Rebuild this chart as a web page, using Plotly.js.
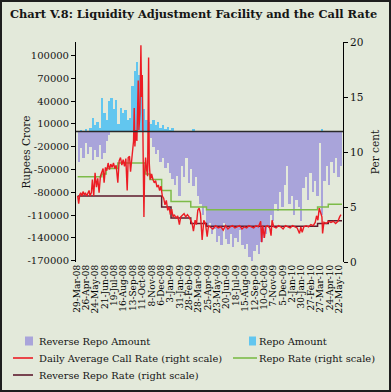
<!DOCTYPE html>
<html>
<head>
<meta charset="utf-8">
<script src="https://cdn.plot.ly/plotly-3.0.1.min.js"></script>
<style>
html,body{margin:0;padding:0;background:#fff;}
#wrap{position:relative;width:391px;height:392px;}
#chart{width:391px;height:392px;}
#frame{position:absolute;left:0;top:0;width:391px;height:392px;box-sizing:border-box;border:2px solid #1e1e1e;pointer-events:none;}
</style>
</head>
<body>
<div id="wrap"><div id="chart"></div><div id="frame"></div></div>
<script>
// ---- Weekly categories for LAF amounts ----
const weekDates = [
'2008-04-04','2008-04-11','2008-04-18','2008-04-25','2008-05-02','2008-05-09','2008-05-16','2008-05-23','2008-05-30',
'2008-06-06','2008-06-13','2008-06-20','2008-06-27','2008-07-04','2008-07-11','2008-07-18','2008-07-25',
'2008-08-01','2008-08-08','2008-08-15','2008-08-22','2008-08-29','2008-09-05','2008-09-12','2008-09-19','2008-09-26',
'2008-10-03','2008-10-10','2008-10-17','2008-10-24','2008-10-31','2008-11-07','2008-11-14','2008-11-21','2008-11-28',
'2008-12-05','2008-12-12','2008-12-19','2008-12-26','2009-01-02','2009-01-09','2009-01-16','2009-01-23','2009-01-30',
'2009-02-06','2009-02-13','2009-02-20','2009-02-27','2009-03-06','2009-03-13','2009-03-20','2009-03-27',
'2009-04-03','2009-04-10','2009-04-17','2009-04-24','2009-05-01','2009-05-08','2009-05-15','2009-05-22','2009-05-29',
'2009-06-05','2009-06-12','2009-06-19','2009-06-26','2009-07-03','2009-07-10','2009-07-17','2009-07-24','2009-07-31',
'2009-08-07','2009-08-14','2009-08-21','2009-08-28','2009-09-04','2009-09-11','2009-09-18','2009-09-25',
'2009-10-02','2009-10-09','2009-10-16','2009-10-23','2009-10-30','2009-11-06','2009-11-13','2009-11-20','2009-11-27',
'2009-12-04','2009-12-11','2009-12-18','2009-12-25','2010-01-01','2010-01-08','2010-01-15','2010-01-22','2010-01-29',
'2010-02-05','2010-02-12','2010-02-19','2010-02-26','2010-03-05','2010-03-12','2010-03-19','2010-03-26',
'2010-04-02','2010-04-09','2010-04-16','2010-04-23','2010-04-30','2010-05-07','2010-05-14','2010-05-21','2010-05-28'
];
// Reverse repo (absorption, negative) in Rupees crore
const reverseRepoAmount = [
-40000,-22000,-35000,-15000,-30000,-20000,-38000,-25000,-33000,-18000,-36000,-28000,-12000,-5000,
0,0,0,0,0,0,0,0,0,0,0,0,0,0,0,0,0,
-8000,-20000,-30000,-25000,-40000,-35000,-48000,-42000,-55000,-62000,-70000,-58000,-85000,
-45000,-60000,-35000,-68000,-50000,-72000,-60000,-85000,-95000,-110000,-100000,-125000,-120000,
-135000,-128000,-145000,-138000,-150000,-120000,-142000,-148000,-135000,-152000,-140000,-146000,-130000,-150000,
-155000,-148000,-165000,-170000,-158000,-150000,-162000,-145000,-140000,-135000,
-125000,-110000,-118000,-95000,-105000,-80000,-100000,-70000,-45000,
-95000,-85000,-110000,-90000,-100000,-118000,-75000,-60000,-90000,-55000,
-80000,-65000,-85000,-15000,-110000,-65000,-45000,-70000,-40000,-55000,-35000,-60000,-45000
];
// Repo (injection, positive) in Rupees crore
const repoAmount = [
0,2000,0,3000,0,5000,18000,8000,12000,5000,44000,25000,15000,40000,44000,30000,42000,
10000,31000,25000,28000,15000,18000,60000,80000,92000,75000,65000,30000,15000,12000,
10000,15000,8000,12000,5000,8000,3000,6000,2000,4000,
0,0,0,0,0,0,0,0,3000,0,0,0,0,0,0,0,0,0,0,0,0,0,0,0,0,0,0,0,0,0,
0,0,0,0,0,0,0,0,0,0,0,0,0,0,0,0,0,0,0,0,0,0,0,0,0,0,0,0,0,0,0,0,0,3000,0,0,0,0,0,0,0,0,0
];
// Daily average call rate (per cent)
const callDates = [
'2008-04-01','2008-04-04','2008-04-07','2008-04-10','2008-04-14','2008-04-17','2008-04-21','2008-04-24','2008-04-28',
'2008-05-01','2008-05-05','2008-05-08','2008-05-12','2008-05-15','2008-05-19','2008-05-23','2008-05-27','2008-05-31',
'2008-06-04','2008-06-08','2008-06-12','2008-06-16','2008-06-19','2008-06-23','2008-06-27',
'2008-07-01','2008-07-05','2008-07-09','2008-07-13','2008-07-17','2008-07-21','2008-07-25','2008-07-30',
'2008-08-03','2008-08-07','2008-08-11','2008-08-15','2008-08-19','2008-08-23','2008-08-27','2008-08-30',
'2008-09-03','2008-09-06','2008-09-09','2008-09-12','2008-09-15','2008-09-17','2008-09-19','2008-09-22','2008-09-25','2008-09-29',
'2008-10-01','2008-10-04','2008-10-07','2008-10-09','2008-10-11','2008-10-14','2008-10-16','2008-10-18','2008-10-21','2008-10-24','2008-10-27','2008-10-30',
'2008-11-01','2008-11-04','2008-11-08','2008-11-12','2008-11-16','2008-11-20','2008-11-24','2008-11-28',
'2008-12-02','2008-12-06','2008-12-10','2008-12-14','2008-12-18','2008-12-22','2008-12-26','2008-12-30',
'2009-01-03','2009-01-07','2009-01-11','2009-01-15','2009-01-20','2009-01-25','2009-01-30',
'2009-02-03','2009-02-08','2009-02-13','2009-02-18','2009-02-23','2009-02-28',
'2009-03-04','2009-03-09','2009-03-13','2009-03-18','2009-03-22','2009-03-26','2009-03-30',
'2009-04-03','2009-04-08','2009-04-13','2009-04-18','2009-04-23','2009-04-27',
'2009-05-02','2009-05-10','2009-05-18','2009-05-26','2009-06-03','2009-06-10','2009-06-17','2009-06-24',
'2009-07-01','2009-07-08','2009-07-15','2009-07-22','2009-07-29','2009-08-05','2009-08-12','2009-08-19','2009-08-26',
'2009-09-02','2009-09-09','2009-09-16','2009-09-23','2009-09-30','2009-10-03','2009-10-06','2009-10-11','2009-10-15',
'2009-10-20','2009-10-27','2009-10-31','2009-11-03','2009-11-08','2009-11-15','2009-11-22','2009-11-29',
'2009-12-06','2009-12-13','2009-12-20','2009-12-27','2010-01-03','2010-01-10','2010-01-17','2010-01-24','2010-01-28',
'2010-02-01','2010-02-06','2010-02-13','2010-02-20','2010-02-27','2010-03-06','2010-03-12','2010-03-16','2010-03-20',
'2010-03-24','2010-03-28','2010-04-01','2010-04-03','2010-04-07','2010-04-14','2010-04-21','2010-04-28',
'2010-05-05','2010-05-12','2010-05-19','2010-05-24','2010-05-28'
];
const callRate = [
6.0,5.3,6.1,6.3,6.0,6.4,6.1,6.3,6.0,
6.2,6.5,6.0,6.3,7.5,6.0,8.1,6.8,7.6,
6.3,7.8,8.1,8.5,7.2,8.6,8.3,
9.0,8.4,8.9,8.6,9.0,8.5,8.8,7.2,
9.2,9.5,8.8,9.3,8.7,9.4,6.5,9.5,
9.6,8.2,9.3,10.0,11.0,14.0,10.5,12.0,11.0,16.5,
12.0,13.5,19.7,15.0,17.0,9.0,4.1,8.0,9.5,8.4,7.8,18.6,
9.0,7.5,8.0,7.5,7.2,7.4,6.8,7.0,
6.5,6.9,6.0,5.8,5.2,5.6,4.7,5.0,
4.3,4.8,4.1,4.3,4.0,4.2,3.4,
4.1,4.3,4.4,4.1,4.3,4.1,
3.8,3.5,2.8,3.8,3.4,4.7,4.9,
4.4,2.0,3.8,3.5,2.3,3.3,
3.2,3.0,3.3,3.1,3.2,2.9,3.3,3.0,
3.2,3.3,3.1,3.2,3.3,3.0,3.2,3.1,3.3,
3.2,3.1,3.3,3.2,3.7,1.8,3.3,2.2,3.2,
3.3,3.1,2.4,3.8,3.2,3.1,3.3,3.2,
3.0,3.3,3.2,3.1,3.3,3.2,3.1,2.6,3.2,
2.7,3.2,3.3,3.2,3.4,3.3,3.6,4.2,3.8,
4.9,4.5,4.1,2.6,3.6,3.5,3.7,3.6,
3.7,3.5,3.7,4.1,4.3
];
// Policy rates (per cent), step changes
const repoRateDates = ['2008-04-01','2008-06-12','2008-06-25','2008-07-30','2008-10-20','2008-11-03','2008-12-08','2009-01-05','2009-03-05','2009-04-21','2010-03-19','2010-04-20','2010-05-31'];
const repoRate = [7.75,8.0,8.5,9.0,8.0,7.5,6.5,5.5,5.0,4.75,5.0,5.25,5.25];
const reverseRepoRateDates = ['2008-04-01','2008-12-08','2009-01-05','2009-03-05','2009-04-21','2010-03-19','2010-04-20','2010-05-31'];
const reverseRepoRate = [6.0,5.0,4.0,3.5,3.25,3.5,3.75,3.75];
// Tick labels
const tickDates = ['2008-03-29','2008-04-26','2008-05-24','2008-06-21','2008-07-19','2008-08-16','2008-09-13','2008-10-11','2008-11-08','2008-12-06',
'2009-01-03','2009-01-31','2009-02-28','2009-03-28','2009-04-25','2009-05-23','2009-06-20','2009-07-18','2009-08-15','2009-09-12','2009-10-10','2009-11-07','2009-12-05',
'2010-01-02','2010-01-30','2010-02-27','2010-03-27','2010-04-24','2010-05-22'];
const tickLabels = ['29-Mar-08','26-Apr-08','24-May-08','21-Jun-08','19-Jul-08','16-Aug-08','13-Sep-08','11-Oct-08','8-Nov-08','6-Dec-08',
'3-Jan-09','31-Jan-09','28-Feb-09','28-Mar-09','25-Apr-09','23-May-09','20-Jun-09','18-Jul-09','15-Aug-09','12-Sep-09','10-Oct-09','7-Nov-09','5-Dec-09',
'2-Jan-10','30-Jan-10','27-Feb-10','27-Mar-10','24-Apr-10','22-May-10'];
const leftTickVals = [100000,70000,40000,10000,-20000,-50000,-80000,-110000,-140000,-170000];
const leftTickText = ['100000','70000','40000','10000','-20000','-50000','-80000','-110000','-140000','-170000'];
const rightTickVals = [0,5,10,15,20];

const FONT = 'DejaVu Serif';
const INK = '#151515';
const BG = '#e3e9da';
const C_REV = '#a9a4da', C_REPO = '#62c6ef', C_CALL = '#ec1c24', C_REPORATE = '#7dbb48', C_REVRATE = '#5e1a2c';

const traces = [
  {type:'bar', name:'Reverse Repo Amount', x:weekDates, y:reverseRepoAmount, marker:{color:C_REV, line:{width:0}}, yaxis:'y'},
  {type:'bar', name:'Repo Amount', x:weekDates, y:repoAmount, marker:{color:C_REPO, line:{width:0}}, yaxis:'y'},
  {type:'scatter', mode:'lines', name:'Reverse Repo Rate (right scale)', x:reverseRepoRateDates, y:reverseRepoRate,
   line:{color:C_REVRATE, width:1.5, shape:'hv'}, yaxis:'y2'},
  {type:'scatter', mode:'lines', name:'Repo Rate (right scale)', x:repoRateDates, y:repoRate,
   line:{color:C_REPORATE, width:1.5, shape:'hv'}, yaxis:'y2'},
  {type:'scatter', mode:'lines', name:'Daily Average Call Rate (right scale)', x:callDates, y:callRate,
   line:{color:C_CALL, width:1.4}, yaxis:'y2'}
];

// Key (legend) drawn in paper space; pixel helpers for the 391x392 frame
const PL = 76, PW = 267, PB = 262, PH = 220;
const px = X => (X - PL) / PW;
const py = Y => (PB - Y) / PH;
const keyFont = {family:FONT, size:9.9, color:INK};
const keyItems = [
  {label:'Reverse Repo Amount', kind:'box', color:C_REV, sx0:25, sx1:33, tx:38, y:341},
  {label:'Repo Amount', kind:'box', color:C_REPO, sx0:249, sx1:256, tx:258, y:341},
  {label:'Daily Average Call Rate (right scale)', kind:'line', color:C_CALL, sx0:13, sx1:33, tx:38, y:358},
  {label:'Repo Rate (right scale)', kind:'line', color:C_REPORATE, sx0:233, sx1:257, tx:258, y:358},
  {label:'Reverse Repo Rate (right scale)', kind:'line', color:C_REVRATE, sx0:13, sx1:33, tx:38, y:375}
];
const keyShapes = keyItems.map(k => k.kind === 'box'
  ? {type:'rect', xref:'paper', yref:'paper', x0:px(k.sx0), x1:px(k.sx1), y0:py(k.y+4.5), y1:py(k.y-4.5),
     fillcolor:k.color, line:{width:0}}
  : {type:'line', xref:'paper', yref:'paper', x0:px(k.sx0), x1:px(k.sx1), y0:py(k.y), y1:py(k.y),
     line:{color:k.color, width:1.6}});
const keyTexts = keyItems.map(k => ({text:k.label, xref:'paper', yref:'paper', x:px(k.tx), y:py(k.y),
  xanchor:'left', yanchor:'middle', showarrow:false, borderpad:0, font:keyFont}));

const layout = {
  width:391, height:392,
  paper_bgcolor:BG, plot_bgcolor:BG,
  margin:{l:76, r:48, t:42, b:130, pad:0},
  title:{text:'<b>Chart V.8: Liquidity Adjustment Facility and the Call Rate</b>',
    xref:'container', yref:'container', x:10/391, xanchor:'left', y:1-14/392, yanchor:'middle',
    font:{family:FONT, size:11.4, color:INK}},
  barmode:'relative', bargap:0,
  showlegend:false,
  xaxis:{type:'date', range:['2008-03-27','2010-06-03'], tickmode:'array', tickvals:tickDates, ticktext:tickLabels,
    tickangle:-90, showline:false, showgrid:false, zeroline:false, ticks:'',
    tickfont:{family:FONT, size:9, color:'#000'}},
  yaxis:{range:[-171900,117900], tickmode:'array', tickvals:leftTickVals, ticktext:leftTickText,
    showline:true, linecolor:'#000', linewidth:1, ticks:'outside', ticklen:4, tickcolor:'#000',
    showgrid:false, zeroline:false, tickfont:{family:FONT, size:10, color:INK},
    title:{text:'Rupees Crore', font:{family:FONT, size:10.5, color:INK}}},
  yaxis2:{overlaying:'y', side:'right', range:[0,20], tickmode:'array', tickvals:rightTickVals,
    showline:true, linecolor:'#000', linewidth:1, ticks:'outside', ticklen:4, tickcolor:'#000',
    showgrid:false, zeroline:false, tickfont:{family:FONT, size:10.5, color:INK},
    title:{text:'Per cent', font:{family:FONT, size:10.5, color:INK}}},
  shapes:[{type:'line', xref:'paper', x0:0, x1:1, yref:'y', y0:0, y1:0, layer:'above',
    line:{color:'#2a2a2a', width:1.5}}].concat(keyShapes),
  annotations:keyTexts
};

Plotly.newPlot('chart', traces, layout, {staticPlot:true, displayModeBar:false});
</script>
</body>
</html>
